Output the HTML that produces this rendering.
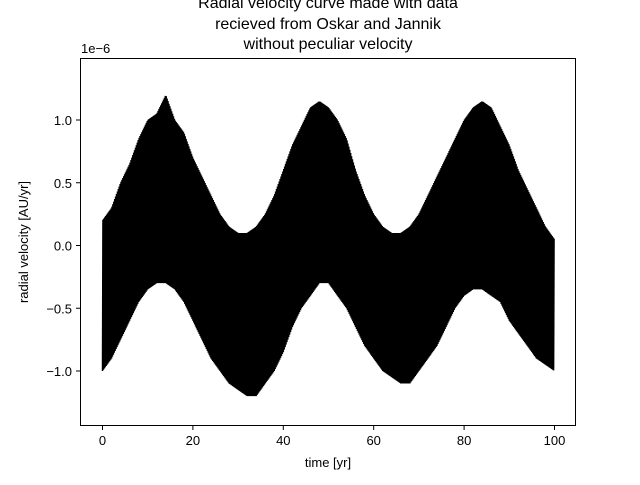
<!DOCTYPE html>
<html><head><meta charset="utf-8"><style>
body{margin:0;background:#fff;}
svg text{font-family:"Liberation Sans","DejaVu Sans",sans-serif;fill:#000;}
</style></head><body>
<svg id="chart" width="640" height="480" xmlns="http://www.w3.org/2000/svg">
<rect width="640" height="480" fill="#fff"/>
<g id="title" font-size="16" text-anchor="middle">
<text x="328" y="8">Radial velocity curve made with data</text>
<text x="328" y="29">recieved from Oskar and Jannik</text>
<text x="328" y="49">without peculiar velocity</text>
</g>
<g id="series"></g>
<rect x="80.5" y="58.5" width="495" height="367" fill="none" stroke="#000" stroke-width="1"/>
<g id="xticks"></g>
<g id="yticks"></g>
<text x="81" y="53" font-size="13">1e−6</text>
<text x="328" y="467" font-size="13" text-anchor="middle">time [yr]</text>
<text x="28" y="242" font-size="13" text-anchor="middle" transform="rotate(-90 28 242)">radial velocity [AU/yr]</text>
</svg>
<script>
const times=[0,2,4,6,8,10,12,14,16,18,20,22,24,26,28,30,32,34,36,38,40,42,44,46,48,50,52,54,56,58,60,62,64,66,68,70,72,74,76,78,80,82,84,86,88,90,92,94,96,98,100];
const hiValues=[0.2,0.3,0.5,0.65,0.85,1.0,1.05,1.2,1.0,0.9,0.7,0.55,0.4,0.25,0.15,0.1,0.1,0.15,0.25,0.4,0.6,0.8,0.95,1.1,1.15,1.1,1.0,0.85,0.6,0.4,0.25,0.15,0.1,0.1,0.15,0.25,0.4,0.55,0.7,0.85,1.0,1.1,1.15,1.1,0.95,0.8,0.6,0.45,0.3,0.15,0.05];
const loValues=[-1.0,-0.9,-0.75,-0.6,-0.45,-0.35,-0.3,-0.3,-0.35,-0.45,-0.6,-0.75,-0.9,-1.0,-1.1,-1.15,-1.2,-1.2,-1.1,-1.0,-0.85,-0.65,-0.5,-0.4,-0.3,-0.3,-0.4,-0.5,-0.65,-0.8,-0.9,-1.0,-1.05,-1.1,-1.1,-1.0,-0.9,-0.8,-0.65,-0.5,-0.4,-0.35,-0.35,-0.4,-0.45,-0.6,-0.7,-0.8,-0.9,-0.95,-1.0];
const xTickLabels=[0,20,40,60,80,100];
const yTickLabels=[-1.0,-0.5,0.0,0.5,1.0];
const NS="http://www.w3.org/2000/svg";
const xS=t=>102.5+t*4.52;
const yS=v=>245.5-v*125.5;
const series=document.getElementById('series');
let pts=[];let k=0;
for(let i=0;i<times.length-1;i++){
  const n=20;
  for(let j=0;j<n;j++){
    const f=j/n;
    const t=times[i]+f*(times[i+1]-times[i]);
    const hi=hiValues[i]+f*(hiValues[i+1]-hiValues[i]);
    const lo=loValues[i]+f*(loValues[i+1]-loValues[i]);
    pts.push(xS(t).toFixed(2)+','+yS(k%2?hi:lo).toFixed(2));k++;
  }
}
const pl=document.createElementNS(NS,'polyline');
pl.setAttribute('points',pts.join(' '));
pl.setAttribute('fill','none');pl.setAttribute('stroke','#000');pl.setAttribute('stroke-width','1.5');


series.appendChild(pl);
const xg=document.getElementById('xticks');
xTickLabels.forEach(v=>{
  const l=document.createElementNS(NS,'line');
  l.setAttribute('x1',xS(v));l.setAttribute('x2',xS(v));l.setAttribute('y1',426);l.setAttribute('y2',430);l.setAttribute('stroke','#000');
  
  
  xg.appendChild(l);
  const t=document.createElementNS(NS,'text');
  t.setAttribute('x',xS(v));t.setAttribute('y',445);t.setAttribute('font-size','13');t.setAttribute('text-anchor','middle');
  t.textContent=v;
  
  
  xg.appendChild(t);
});
const yg=document.getElementById('yticks');
yTickLabels.forEach(v=>{
  const l=document.createElementNS(NS,'line');
  l.setAttribute('x1',76);l.setAttribute('x2',80);l.setAttribute('y1',yS(v));l.setAttribute('y2',yS(v));l.setAttribute('stroke','#000');
  
  
  yg.appendChild(l);
  const t=document.createElementNS(NS,'text');
  t.setAttribute('x',72);t.setAttribute('y',yS(v)+5);t.setAttribute('font-size','13');t.setAttribute('text-anchor','end');
  t.textContent=(v<0?'−':'')+Math.abs(v).toFixed(1);
  
  
  yg.appendChild(t);
});
</script>
</body></html>
